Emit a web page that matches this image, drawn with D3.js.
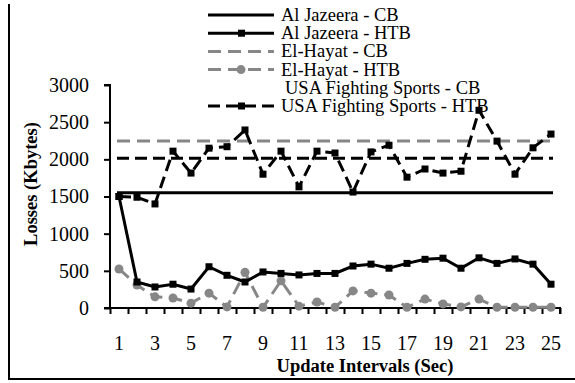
<html>
<head>
<script src="https://cdn.jsdelivr.net/npm/d3@7"></script>
<style>
  body { margin: 0; background: #fff; }
  svg text { font-family: "Liberation Serif", "Times New Roman", Times, "DejaVu Serif", serif !important; fill: #000; }
</style>
</head>
<body>
<svg width="575" height="383"></svg>
<script>
// update intervals (x categories)
var intervals = d3.range(1, 26);
var xLabels = [1, 3, 5, 7, 9, 11, 13, 15, 17, 19, 21, 23, 25];
var yTicks = [0, 500, 1000, 1500, 2000, 2500, 3000];

// constant-bitrate (CB) levels
var alJazeeraCB = 1550;
var elHayatCB = 2245;
var usaCB = 2015;

// HTB series, one value per interval
var alJazeeraHTB = [1500, 350, 283, 320, 255, 555, 440, 350, 485, 465, 445, 465, 465,
                    565, 590, 535, 600, 655, 670, 535, 675, 600, 660, 590, 320];
var elHayatHTB = [525, 310, 150, 135, 65, 200, 15, 480, 10, 365, 25, 80, 10,
                  230, 200, 175, 10, 120, 55, 15, 120, 10, 10, 10, 10];
var usaHTB = [1500, 1490, 1400, 2110, 1815, 2150, 2170, 2395, 1800, 2110, 1630, 2110, 2085,
              1560, 2100, 2190, 1760, 1870, 1815, 1840, 2660, 2245, 1800, 2155, 2340];

var legendNames = ["Al Jazeera - CB", "Al Jazeera - HTB", "El-Hayat - CB",
                   "El-Hayat - HTB", "USA Fighting Sports - CB", "USA Fighting Sports - HTB"];

var svg = d3.select("svg");
var gray = "#878787";

// outer frame (left and bottom edges)
svg.append("path")
    .attr("d", "M9,4 V379 H575")
    .attr("fill", "none").attr("stroke", "#000").attr("stroke-width", 2);

var x = d3.scaleLinear().domain([0.5, 25.5]).range([110, 560]);
var y = d3.scaleLinear().domain([0, 3000]).range([308, 85]);

// y axis
var yAxis = d3.axisLeft(y).tickValues(yTicks).tickSize(6).tickPadding(15).tickFormat(d3.format("d"));
var gy = svg.append("g").attr("transform", "translate(110,0)").call(yAxis)
    .attr("font-family", null).attr("font-size", null);
gy.select(".domain").attr("stroke-width", 2).attr("d", "M-6,85H0V308H-6");
gy.selectAll(".tick line").attr("stroke-width", 2);
gy.selectAll(".tick text").style("font-size", "20px");

// x axis: tick marks at category boundaries
var bounds = d3.range(0.5, 26, 1);
var xAxis = d3.axisBottom(x).tickValues(bounds).tickSize(6).tickFormat("");
var gx = svg.append("g").attr("transform", "translate(0,308)").call(xAxis);
gx.select(".domain").attr("stroke-width", 2).attr("d", "M110,0H560V6");
gx.selectAll(".tick line").attr("stroke-width", 2);

svg.append("g").selectAll("text").data(xLabels).enter().append("text")
    .attr("x", function(d) { return x(d); })
    .attr("y", 343)
    .attr("text-anchor", "middle")
    .attr("dominant-baseline", "central")
    .style("font-size", "20px")
    .text(function(d) { return d; });

// axis titles
svg.append("text")
    .attr("x", 365).attr("y", 366)
    .attr("text-anchor", "middle").attr("dominant-baseline", "central")
    .style("font-size", "18.5px").style("font-weight", "bold")
    .text("Update Intervals (Sec)");

svg.append("text")
    .attr("transform", "translate(31,184) rotate(-90)")
    .attr("text-anchor", "middle").attr("dominant-baseline", "central")
    .style("font-size", "18.5px").style("font-weight", "bold")
    .text("Losses (Kbytes)");

// CB constant lines
function hline(v, color, dash) {
    svg.append("line")
        .attr("x1", x(1) - 2).attr("x2", x(25) + 2)
        .attr("y1", y(v)).attr("y2", y(v))
        .attr("stroke", color).attr("stroke-width", 3)
        .attr("stroke-dasharray", dash);
}
hline(alJazeeraCB, "#000", null);
hline(elHayatCB, gray, "13,7");
hline(usaCB, "#000", "12,6");

var line = d3.line()
    .x(function(d, i) { return x(intervals[i]); })
    .y(function(d) { return y(d); });

function series(vals, color, dash, marker) {
    svg.append("path").datum(vals)
        .attr("d", line)
        .attr("fill", "none").attr("stroke", color)
        .attr("stroke-width", 3)
        .attr("stroke-dasharray", dash);
    var g = svg.append("g");
    if (marker === "square") {
        g.selectAll("rect").data(vals).enter().append("rect")
            .attr("x", function(d, i) { return x(intervals[i]) - 3.5; })
            .attr("y", function(d) { return y(d) - 3.5; })
            .attr("width", 7).attr("height", 7)
            .attr("fill", color);
    } else {
        g.selectAll("circle").data(vals).enter().append("circle")
            .attr("cx", function(d, i) { return x(intervals[i]); })
            .attr("cy", function(d) { return y(d); })
            .attr("r", 4.5)
            .attr("fill", color);
    }
}
series(elHayatHTB, gray, "13,7", "circle");
series(usaHTB, "#000", "12,6", "square");
series(alJazeeraHTB, "#000", null, "square");

// legend
var legStyles = [
    {color: "#000", dash: null, marker: null},
    {color: "#000", dash: null, marker: "square"},
    {color: gray, dash: "13,7", marker: null},
    {color: gray, dash: "13,7", marker: "circle"},
    {color: "none", dash: null, marker: null},
    {color: "#000", dash: "12,6", marker: "square"}
];
var leg = svg.append("g").selectAll("g").data(legendNames).enter().append("g")
    .attr("transform", function(d, i) { return "translate(0," + (15 + i * 18.2) + ")"; });
leg.append("line")
    .attr("x1", 208).attr("x2", 274)
    .attr("stroke", function(d, i) { return legStyles[i].color; })
    .attr("stroke-width", 3)
    .attr("stroke-dasharray", function(d, i) { return legStyles[i].dash; });
leg.each(function(d, i) {
    var s = legStyles[i];
    if (s.marker === "square") {
        d3.select(this).append("rect").attr("x", 238).attr("y", -3.5)
            .attr("width", 7).attr("height", 7).attr("fill", s.color);
    } else if (s.marker === "circle") {
        d3.select(this).append("circle").attr("cx", 241).attr("cy", 0)
            .attr("r", 4.5).attr("fill", s.color);
    }
});
leg.append("text")
    .attr("x", function(d, i) { return i === 4 ? 285 : 281; })
    .attr("dominant-baseline", "central")
    .style("font-size", "18.5px")
    .text(function(d) { return d; });
</script>
</body>
</html>
